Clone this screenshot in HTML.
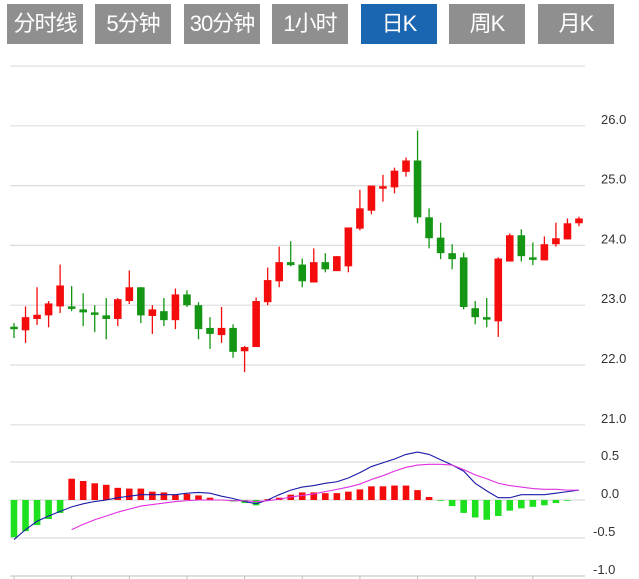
<!DOCTYPE html>
<html><head><meta charset="utf-8"><style>
body{margin:0;width:639px;height:579px;background:#fff;overflow:hidden;font-family:"Liberation Sans","Noto Sans CJK SC",sans-serif}
.btn{position:absolute;top:4px;height:40px;width:76px;background:#8f8f8f;color:#fff;font-size:22px;line-height:40px;text-align:center;letter-spacing:-1px}
.btn.on{background:#1b66b1}
svg{position:absolute;left:0;top:0}
</style></head><body>
<div class="btn" style="left:7px">分时线</div>
<div class="btn" style="left:95px">5分钟</div>
<div class="btn" style="left:184px">30分钟</div>
<div class="btn" style="left:272px">1小时</div>
<div class="btn on" style="left:361px">日K</div>
<div class="btn" style="left:449px">周K</div>
<div class="btn" style="left:538px">月K</div>
<svg id="chart" width="639" height="579"></svg>
<script>
const opens=[22.64,22.58,22.77,22.83,22.98,22.98,22.93,22.88,22.83,22.77,23.07,23.3,22.82,22.9,22.75,23.18,23.0,22.62,22.5,22.62,22.23,22.3,23.05,23.4,23.72,23.68,23.38,23.72,23.57,23.65,24.28,24.58,24.98,24.97,25.23,25.42,24.47,24.13,23.87,23.8,22.95,22.8,22.73,23.73,24.17,23.8,23.75,24.02,24.1,24.37];
const closes=[22.6,22.8,22.84,23.03,23.33,22.96,22.88,22.84,22.77,23.1,23.3,22.83,22.93,22.75,23.18,23.0,22.6,22.52,22.62,22.22,22.3,23.07,23.42,23.72,23.67,23.4,23.72,23.6,23.82,24.3,24.62,25.0,24.99,25.25,25.42,24.47,24.12,23.87,23.77,22.97,22.8,22.77,23.78,24.17,23.82,23.77,24.02,24.12,24.37,24.45];
const highs=[22.7,22.98,23.3,23.07,23.68,23.32,23.2,23.0,23.12,23.12,23.58,23.3,23.0,23.12,23.28,23.25,23.05,22.8,22.97,22.68,22.32,23.13,23.63,23.98,24.07,23.78,23.95,23.87,23.82,24.3,24.93,25.0,25.18,25.3,25.47,25.92,24.62,24.38,24.02,23.88,23.07,23.12,23.8,24.2,24.27,24.05,24.15,24.38,24.45,24.48];
const lows=[22.45,22.37,22.67,22.63,22.87,22.9,22.65,22.55,22.43,22.65,23.02,22.7,22.52,22.65,22.6,22.97,22.43,22.27,22.37,22.12,21.88,22.3,23.0,23.3,23.65,23.3,23.38,23.55,23.57,23.55,24.25,24.52,24.73,24.87,25.15,24.37,23.95,23.77,23.6,22.93,22.68,22.63,22.47,23.73,23.73,23.67,23.75,23.98,24.1,24.32];
const hist=[-0.49,-0.41,-0.33,-0.25,-0.17,0.28,0.25,0.22,0.2,0.16,0.15,0.15,0.11,0.1,0.07,0.08,0.06,0.03,0,-0.02,-0.04,-0.07,0.01,0.03,0.07,0.1,0.1,0.09,0.09,0.11,0.14,0.18,0.18,0.19,0.19,0.13,0.04,-0.01,-0.08,-0.17,-0.23,-0.26,-0.21,-0.14,-0.11,-0.09,-0.07,-0.04,-0.01,0];
const dif=[-0.52,-0.39,-0.28,-0.21,-0.15,-0.09,-0.05,-0.02,0,0.03,0.05,0.07,0.07,0.07,0.07,0.09,0.1,0.09,0.05,0.02,-0.02,-0.05,0,0.07,0.13,0.17,0.19,0.22,0.24,0.29,0.36,0.44,0.49,0.54,0.6,0.63,0.6,0.53,0.46,0.38,0.22,0.12,0.03,0.03,0.07,0.07,0.07,0.09,0.11,0.13];
const dea=[null,null,null,null,null,-0.39,-0.32,-0.26,-0.21,-0.16,-0.12,-0.08,-0.06,-0.04,-0.02,-0.01,0,0,0,-0.01,-0.01,-0.02,-0.01,0.01,0.04,0.06,0.08,0.11,0.14,0.17,0.21,0.27,0.32,0.38,0.43,0.46,0.47,0.47,0.46,0.4,0.33,0.28,0.22,0.19,0.17,0.15,0.14,0.14,0.13,0.13];
const priceTicks=[26,25,24,23,22,21];
const macdTicks=[0.5,0,-0.5,-1];

const svg=document.getElementById('chart');
const NS='http://www.w3.org/2000/svg';
const X=i=>14+i*11.53;
const PY=p=>365-(p-22)*59.8;
const MY=v=>500-v*76;
function mk(tag,attrs){const e=document.createElementNS(NS,tag);for(const k in attrs)e.setAttribute(k,attrs[k]);svg.appendChild(e);return e;}
let g=mk('line',{x1:10,x2:585,y1:66,y2:66,stroke:'#e6e6e6','stroke-width':1.5});


priceTicks.forEach(p=>{
  const l=mk('line',{x1:10,x2:585,y1:PY(p),y2:PY(p),stroke:'#ddd','stroke-width':1.2});
  
  
  const t=mk('text',{x:601,y:PY(p)-2,'font-size':13,fill:'#333','font-family':'Liberation Sans, sans-serif'});
  t.textContent=p.toFixed(1);
  
  
});
macdTicks.forEach(v=>{
  const l=mk('line',{x1:10,x2:585,y1:MY(v),y2:MY(v),stroke:v===-1?'#ccc':'#ddd','stroke-width':1.2});
  
  
  const t=mk('text',{x:v<0?593:601,y:MY(v)-2,'font-size':13,fill:'#333','font-family':'Liberation Sans, sans-serif'});
  t.textContent=v.toFixed(1);
  
  
});
for(let i=0;i<50;i+=5){
  const l=mk('line',{x1:X(i),x2:X(i),y1:576,y2:579,stroke:'#bbb'});
  
  
}
for(let i=0;i<opens.length;i++){
  const up=closes[i]>=opens[i];
  const c=up?'#f40c0c':'#149614';
  const w=mk('line',{x1:X(i),x2:X(i),y1:PY(highs[i]),y2:PY(lows[i]),stroke:c,'stroke-width':1.3});
  
  
  const top=PY(Math.max(opens[i],closes[i])),bot=PY(Math.min(opens[i],closes[i]));
  const b=mk('rect',{x:X(i)-3.8,y:top,width:7.6,height:Math.max(bot-top,2.5),fill:c});
  
  
}
for(let i=0;i<hist.length;i++){
  const v=hist[i];
  const r=mk('rect',{x:X(i)-3.3,y:Math.min(MY(v),MY(0)),width:6.6,height:Math.abs(MY(v)-MY(0)),fill:v>=0?'#f40c0c':'#1ee01e'});
  
  
}
let d1='';dif.forEach((v,i)=>{d1+=(i?'L':'M')+X(i)+','+MY(v);});
const p1=mk('path',{d:d1,fill:'none',stroke:'#1a1aa8','stroke-width':1.1});


let d2='',st=true;dea.forEach((v,i)=>{if(v===null)return;d2+=(st?'M':'L')+X(i)+','+MY(v);st=false;});
const p2=mk('path',{d:d2,fill:'none',stroke:'#e030e0','stroke-width':1.1});


</script>
</body></html>
